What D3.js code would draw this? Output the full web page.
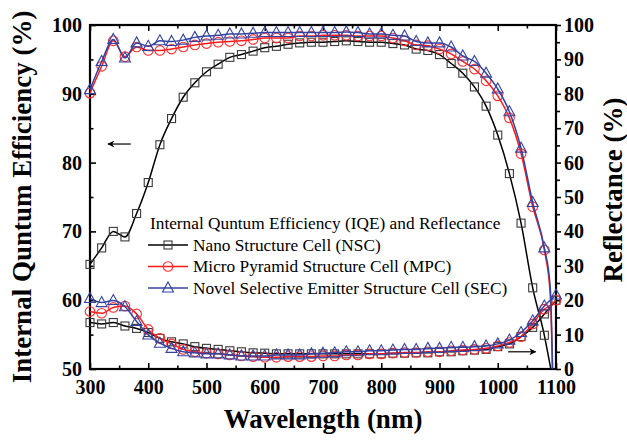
<!DOCTYPE html>
<html><head><meta charset="utf-8">
<script src="https://cdn.jsdelivr.net/npm/d3@7"></script>
<style>body{margin:0;background:#fff}svg{display:block}svg text{font-family:"Liberation Serif","Times New Roman",Times,serif}</style>
</head><body><svg id="c" width="627" height="440"></svg>
<script>
const wavelength = [300,320,340,360,380,400,420,440,460,480,500,520,540,560,580,600,620,640,660,680,700,720,740,760,780,800,820,840,860,880,900,920,940,960,980,1000,1020,1040,1060,1080,1090,1100];
const iqeNSC = [65.2,67.6,70.0,69.2,72.6,77.1,82.6,86.4,89.5,91.6,93.2,94.3,95.3,95.7,96.2,96.7,96.9,97.2,97.4,97.5,97.5,97.6,97.7,97.6,97.5,97.5,97.3,97.1,96.5,96.3,95.7,94.4,93.0,91.0,88.2,84.0,78.4,71.2,61.8,54.9,50.5,46];
const iqeMPC = [90.1,94.0,97.7,95.4,96.8,96.3,96.3,96.5,96.8,97.1,97.3,97.5,97.6,97.7,97.9,98.1,98.1,98.1,98.4,98.4,98.5,98.5,98.5,98.4,98.4,98.4,98.1,97.7,97.1,97.0,96.5,95.8,94.7,93.6,91.9,89.7,86.5,81.3,73.6,67.3,61,20];
const iqeSEC = [90.6,94.7,97.9,95.2,97.4,96.9,97.7,97.6,97.8,98.2,98.4,98.5,98.7,98.7,98.8,98.9,98.9,98.9,98.9,98.9,98.9,98.9,99.0,98.9,98.7,98.7,98.5,98.4,97.6,97.4,97.4,96.8,95.5,94.7,93.0,90.7,87.4,82.1,74.2,67.6,62,22];
const refNSC = [13.5,13.1,13.5,12.5,11.8,10.6,8.9,7.9,7.3,6.5,6.0,5.7,5.3,5.0,4.7,4.6,4.4,4.4,4.4,4.4,4.4,4.4,4.4,4.4,4.4,4.4,4.6,4.6,4.7,4.7,5.0,5.0,5.3,5.5,5.7,6.5,7.3,9.4,12.1,16.0,18,20];
const refMPC = [16.7,16.2,17.9,18.3,16.0,11.5,8.9,7.3,5.7,5.0,4.6,4.4,4.1,3.8,3.6,3.4,3.4,3.6,3.6,3.6,3.8,3.8,4.1,4.1,4.4,4.4,4.6,4.8,4.8,5.0,5.0,5.3,5.5,5.7,6.0,6.7,7.7,9.4,13.1,17.4,18.5,20];
const refSEC = [20.5,19.3,19.9,18.1,13.8,9.9,7.5,6.0,5.0,4.7,4.4,4.4,4.1,3.8,3.8,3.8,4.1,4.1,4.1,4.4,4.6,4.7,5.0,5.0,5.3,5.3,5.5,5.7,5.7,6.0,6.0,6.3,6.3,6.5,6.7,7.3,8.4,10.6,14.0,18.3,20,21.5];
const seriesNames = ["Nano Structure Cell (NSC)","Micro Pyramid Structure Cell (MPC)","Novel Selective Emitter Structure Cell (SEC)"];
const legendTitle = "Internal Quntum Efficiency (IQE) and Reflectance";
const xTicks = [300,400,500,600,700,800,900,1000,1100];
const leftTicks = [50,60,70,80,90,100];
const rightTicks = [0,10,20,30,40,50,60,70,80,90,100];

const svg = d3.select("#c");
const L=90,R=556,T=25,B=369;
const x = d3.scaleLinear().domain([300,1100]).range([L,R]);
const yL = d3.scaleLinear().domain([50,100]).range([B,T]);
const yR = d3.scaleLinear().domain([0,100]).range([B,T]);
const font = '"Liberation Serif","Times New Roman",Times,serif';

svg.append("defs").append("clipPath").attr("id","clip").append("rect")
  .attr("x",L).attr("y",T).attr("width",R-L).attr("height",B-T);

function styleAxis(g, labels){
  g.attr("font-family",null).style("font-family",font);
  g.select(".domain").remove();
  g.selectAll("line").attr("stroke","#000").attr("stroke-width",1.6);
  g.selectAll("text").style("font-family",font).attr("font-weight","bold").attr("font-size",20).attr("fill","#000");
  if(!labels) g.selectAll("text").remove();
}
// bottom
svg.append("g").attr("transform",`translate(0,${B})`).call(d3.axisBottom(x).tickValues(xTicks).tickFormat(d3.format("d")).tickSize(-6).tickPadding(11)).call(g=>styleAxis(g,true));
svg.append("g").attr("transform",`translate(0,${B})`).call(d3.axisBottom(x).tickValues(d3.range(350,1100,100)).tickSize(-3.5)).call(g=>styleAxis(g,false));
// top
svg.append("g").attr("transform",`translate(0,${T})`).call(d3.axisTop(x).tickValues(xTicks).tickSize(-6)).call(g=>styleAxis(g,false));
svg.append("g").attr("transform",`translate(0,${T})`).call(d3.axisTop(x).tickValues(d3.range(350,1100,100)).tickSize(-3.5)).call(g=>styleAxis(g,false));
// left
svg.append("g").attr("transform",`translate(${L},0)`).call(d3.axisLeft(yL).tickValues(leftTicks).tickSize(-6).tickPadding(8)).call(g=>styleAxis(g,true));
svg.append("g").attr("transform",`translate(${L},0)`).call(d3.axisLeft(yL).tickValues([55,65,75,85,95]).tickSize(-3.5)).call(g=>styleAxis(g,false));
// right
svg.append("g").attr("transform",`translate(${R},0)`).call(d3.axisRight(yR).tickValues(rightTicks).tickSize(5).tickPadding(3)).call(g=>styleAxis(g,true));
svg.append("g").attr("transform",`translate(${R},0)`).call(d3.axisRight(yR).tickValues(d3.range(5,100,10)).tickSize(4)).call(g=>styleAxis(g,false));

svg.append("rect").attr("x",L).attr("y",T).attr("width",R-L).attr("height",B-T)
  .attr("fill","none").attr("stroke","#000").attr("stroke-width",2.2);

const colors = ["#000000","#ff1a1a","#3343a3"];
const mcolors = ["#3a3a3a","#ff2a2a","#3343a3"];
const shapes = ["square","circle","triangle"];
function drawMarker(g, shape, cx, cy, col){
  if(shape==="square") g.append("rect").attr("x",cx-4).attr("y",cy-4).attr("width",8).attr("height",8)
     .attr("fill","none").attr("stroke",col).attr("stroke-width",1.1);
  else if(shape==="circle") g.append("circle").attr("cx",cx).attr("cy",cy).attr("r",4.8)
     .attr("fill","none").attr("stroke",col).attr("stroke-width",1.1);
  else g.append("path").attr("d",`M${cx},${cy-6}L${cx+5.5},${cy+4}L${cx-5.5},${cy+4}Z`)
     .attr("fill","none").attr("stroke",col).attr("stroke-width",1.1);
}
const iqe=[iqeNSC,iqeMPC,iqeSEC], ref=[refNSC,refMPC,refSEC];
const plot = svg.append("g");
[0,1,2].forEach(i=>{
  const gi = plot.append("g");
  const pairs = [[iqe[i],yL],[ref[i],yR]];
  pairs.forEach(([vals,sc])=>{
    const line = d3.line().x((d,j)=>x(wavelength[j])).y(d=>sc(d)).curve(d3.curveMonotoneX);
    gi.append("path").attr("clip-path","url(#clip)").attr("d",line(vals)).attr("fill","none")
      .attr("stroke",colors[i]).attr("stroke-width",1.5);
    const mg = gi.append("g");
    vals.forEach((v,j)=>{
      if(wavelength[j]%20!==0) return;
      const yy = sc(v);
      if(yy>B+0.5) return;
      drawMarker(mg, shapes[i], x(wavelength[j]), yy, mcolors[i]);
    });
  });
});

// arrows
const defs = svg.select("defs");
defs.append("marker").attr("id","ah").attr("viewBox","0 0 10 10").attr("refX",9).attr("refY",5)
  .attr("markerWidth",9).attr("markerHeight",7).attr("markerUnits","userSpaceOnUse").attr("orient","auto")
  .append("path").attr("d","M0,0L10,5L0,10L3,5Z").attr("fill","#000");
svg.append("line").attr("x1",x(370)).attr("x2",x(331)).attr("y1",yL(82.7)).attr("y2",yL(82.7))
  .attr("stroke","#000").attr("stroke-width",1.2).attr("marker-end","url(#ah)");
svg.append("line").attr("x1",x(1018)).attr("x2",x(1065)).attr("y1",yR(5)).attr("y2",yR(5))
  .attr("stroke","#000").attr("stroke-width",1.2).attr("marker-end","url(#ah)");

// legend
const lg = svg.append("g").style("font-family",font).attr("font-size",17.3).attr("fill","#000");
lg.append("text").attr("x",150).attr("y",223).attr("dominant-baseline","central").text(legendTitle);
seriesNames.forEach((n,i)=>{
  const yy = 245 + i*21.5;
  lg.append("line").attr("x1",148).attr("x2",188).attr("y1",yy).attr("y2",yy).attr("stroke",colors[i]).attr("stroke-width",1.5);
  drawMarker(lg, shapes[i], 168, yy, mcolors[i]);
  lg.append("text").attr("x",193).attr("y",yy).attr("dominant-baseline","central").text(n);
});

// titles
svg.append("text").attr("transform","translate(31,197) rotate(-90)").attr("text-anchor","middle")
  .style("font-family",font).attr("font-weight","bold").attr("font-size",27).text("Internal Quntum Efficiency (%)");
svg.append("text").attr("transform","translate(622,190) rotate(-90)").attr("text-anchor","middle")
  .style("font-family",font).attr("font-weight","bold").attr("font-size",27).text("Reflectance (%)");
svg.append("text").attr("x",323).attr("y",428).attr("text-anchor","middle")
  .style("font-family",font).attr("font-weight","bold").attr("font-size",27).text("Wavelength (nm)");
</script></body></html>
